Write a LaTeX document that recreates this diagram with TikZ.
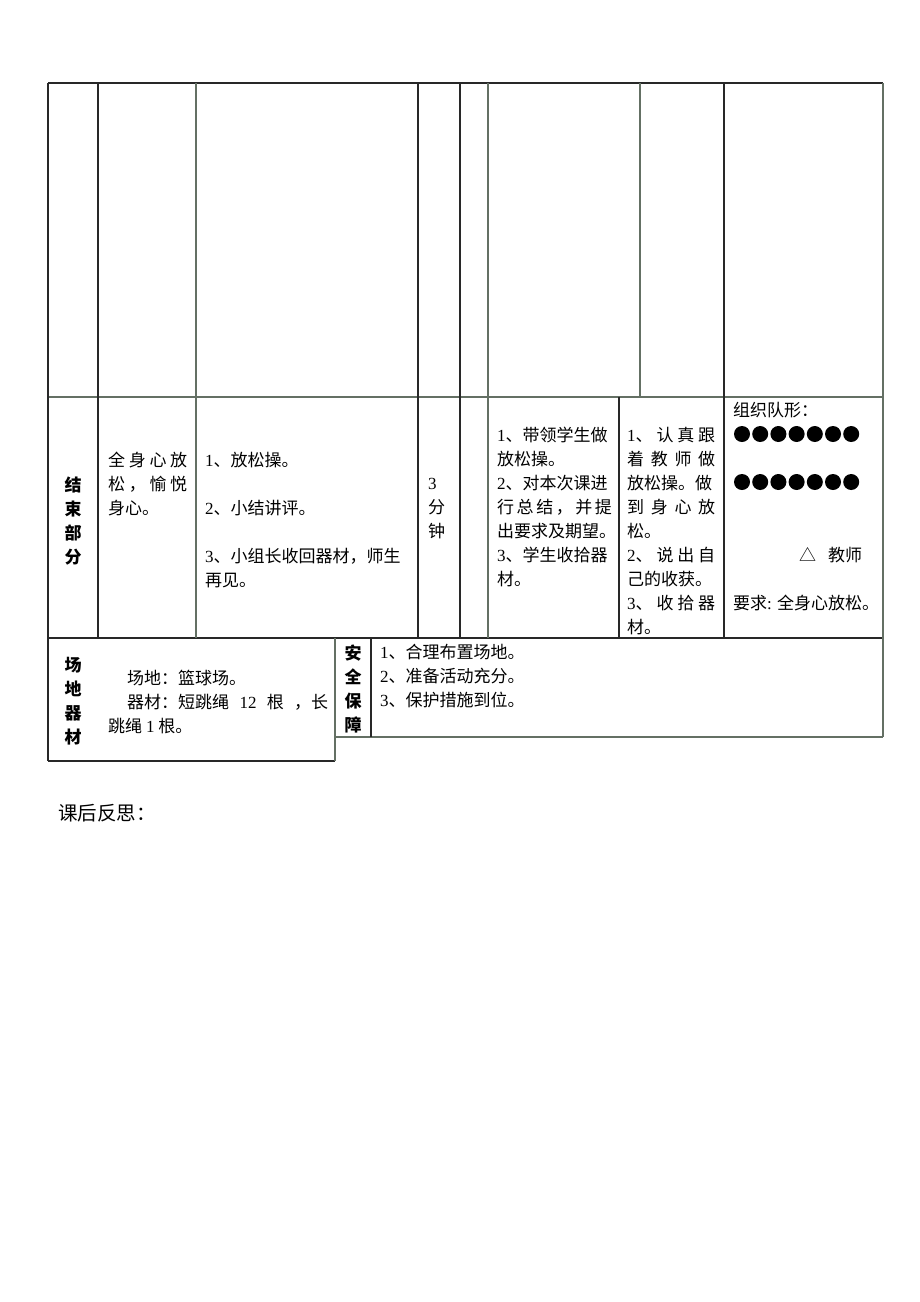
\documentclass[tikz,border=0pt]{standalone}
\usepackage{fontspec}
\setmainfont{Liberation Serif}
\newfontfamily\cjk{Noto Sans CJK SC}
\definecolor{ruledark}{RGB}{40,40,40}
\definecolor{rulegray}{RGB}{100,112,100}
\tikzstyle{dk} = [draw=ruledark, line width=1.1pt]
\tikzstyle{lt} = [draw=rulegray, line width=1.1pt]
% multi-line text: the base anchor sits on the last line
\tikzstyle{txt} = [anchor=base west, align=left, inner sep=0pt, font=\cjk\fontsize{17}{24}\selectfont]
\tikzstyle{vlabel} = [align=center, inner sep=0pt, font=\cjk\bfseries\fontsize{17}{24}\selectfont]
\newcommand{\nm}[1]{{\rmfamily #1}}
\newcommand{\spr}[2]{\makebox[#1][s]{#2}}

\begin{document}
\begin{tikzpicture}[x=1pt, y=-1pt]
\useasboundingbox (0,0) rectangle (920,1302);
% table rules
\draw[dk] (48,83) -- (883,83);
\draw[lt] (48,397) -- (883,397);
\draw[dk] (48,638) -- (883,638);
\draw[lt] (335,737) -- (883,737);
\draw[dk] (48,761) -- (335,761);
\draw[dk] (48,83) -- (48,761);
\foreach \x in {98,418,460,724}
    \draw[dk] (\x,83) -- (\x,638);
\foreach \x in {196,488}
    \draw[lt] (\x,83) -- (\x,638);
\draw[lt] (640,83) -- (640,397);
\draw[dk] (619,397) -- (619,638);
\draw[lt] (883,83) -- (883,737);
\draw[lt] (335,638) -- (335,761);
\draw[dk] (371,638) -- (371,737);

% closing part
\node (endlabel) [vlabel] at (73,521) {结\\束\\部\\分};
\node (endgoal) [txt] at (108,514) {\spr{79pt}{全 身 心 放}\\\spr{79pt}{松 ， 愉 悦}\\身心。};
\node (endcontent) [txt] at (205,586) {\nm{1}、放松操。\\[24pt]\nm{2}、小结讲评。\\[24pt]\nm{3}、小组长收回器材，师生\\再见。};
\node (endtime) [txt] at (428,537) {\nm{3}\\分\\钟};
\node (endteacher) [txt] at (497,585) {\nm{1}、带领学生做\\放松操。\\\nm{2}、对本次课进\\\spr{113pt}{行 总 结 ， 并 提}\\出要求及期望。\\\nm{3}、学生收拾器\\材。};
\node (endstudent) [txt] at (627,633) {\spr{88pt}{\nm{1}、 认 真 跟}\\\spr{88pt}{着 教 师 做}\\放松操。做\\\spr{88pt}{到 身 心 放}\\松。\\\spr{88pt}{\nm{2}、 说 出 自}\\己的收获。\\\spr{88pt}{\nm{3}、 收 拾 器}\\材。};
\node (endform) [txt] at (733,416) {组织队形：};
\foreach \i in {0,...,6} {
    \fill (742+18.2*\i,434) circle (8);
    \fill (742+18.2*\i,482) circle (8);
}
\node (teachermark) [txt] at (799,561) {△\hspace{12pt}教师};
\node (endreq) [txt] at (733,609) {要求\nm{:} 全身心放松。};

% site and safety
\node (sitelabel) [vlabel] at (73,701) {场\\地\\器\\材};
\node (sitetext) [txt] at (108,732) {\hspace*{19pt}场地：篮球场。\\\hspace*{19pt}\spr{201pt}{器材：短跳绳 \nm{12} 根 ，长}\\跳绳 \nm{1} 根。};
\node (safelabel) [vlabel] at (353,689) {安\\全\\保\\障};
\node (safetext) [txt] at (380,706) {\nm{1}、合理布置场地。\\\nm{2}、准备活动充分。\\\nm{3}、保护措施到位。};

\node (reflect) [txt, font=\cjk\fontsize{19.5}{24}\selectfont] at (58,820) {课后反思：};
\end{tikzpicture}
\end{document}
